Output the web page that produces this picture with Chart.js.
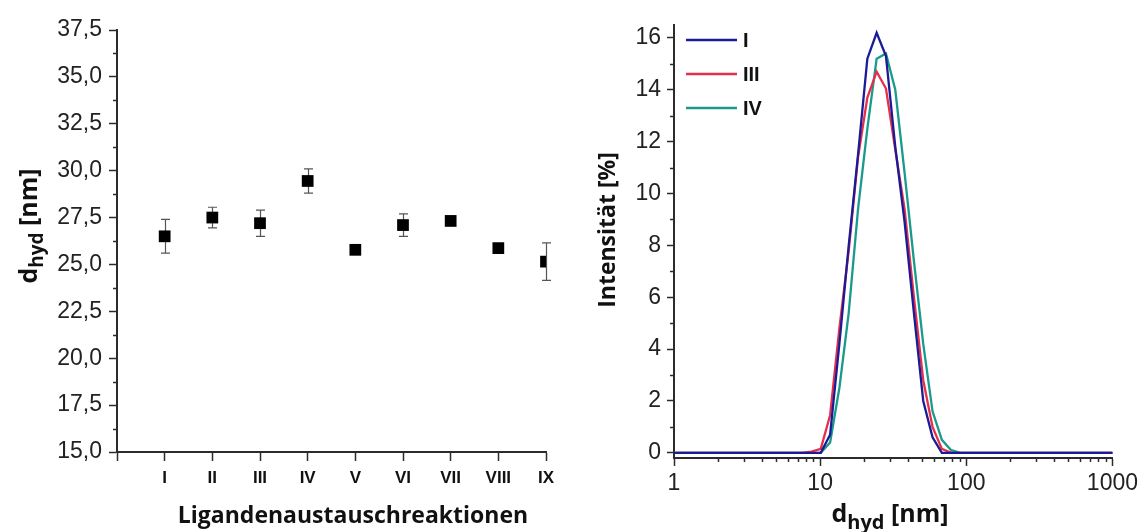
<!DOCTYPE html>
<html>
<head>
<meta charset="utf-8">
<script src="https://cdn.jsdelivr.net/npm/chart.js@4"></script>
<style>
  html, body { margin: 0; padding: 0; background: #fff; }
  #wrap { position: relative; width: 1142px; height: 532px; overflow: hidden; }
  #left { position: absolute; left: 0; top: 0; }
  #right { position: absolute; left: 580px; top: 0; }
</style>
</head>
<body>
<div id="wrap">
  <canvas id="left" width="580" height="532"></canvas>
  <canvas id="right" width="562" height="532"></canvas>
</div>
<script>
// left panel: mean hydrodynamic diameter per ligand exchange reaction
const categories = ["I", "II", "III", "IV", "V", "VI", "VII", "VIII", "IX"];
const dhydMean = [26.5, 27.5, 27.2, 29.45, 25.78, 27.1, 27.32, 25.87, 25.15];
const dhydErr = [0.9, 0.55, 0.7, 0.65, 0.12, 0.6, 0.2, 0.12, 1.0];
const leftYTicks = [15, 17.5, 20, 22.5, 25, 27.5, 30, 32.5, 35, 37.5];
const leftYLabels = ["15,0", "17,5", "20,0", "22,5", "25,0", "27,5", "30,0", "32,5", "35,0", "37,5"];

// right panel: DLS intensity distributions (size classes in nm)
const sizeBins = [0.9649, 1.117, 1.294, 1.499, 1.736, 2.01, 2.328, 2.696, 3.122, 3.615,
  4.187, 4.849, 5.615, 6.503, 7.531, 8.721, 10.1, 11.7, 13.54, 15.69,
  18.17, 21.04, 24.36, 28.21, 32.67, 37.84, 43.82, 50.75, 58.77, 68.06,
  78.82, 91.28, 105.7, 122.4, 141.8, 164.2, 190.1, 220.2, 255, 295.3,
  342, 396.1, 458.7, 531.2, 615.1, 712.4, 825, 955.4, 1106];
const intensityI = [0, 0, 0, 0, 0, 0, 0, 0, 0, 0,
  0, 0, 0, 0, 0, 0, 0, 0.7, 4.2, 8.0,
  11.5, 15.2, 16.2, 15.3, 11.8, 8.9, 5.4, 2.0, 0.6, 0,
  0, 0, 0, 0, 0, 0, 0, 0, 0, 0,
  0, 0, 0, 0, 0, 0, 0, 0, 0];
const intensityIII = [0, 0, 0, 0, 0, 0, 0, 0, 0, 0,
  0, 0, 0, 0, 0, 0.05, 0.15, 1.45, 4.8, 7.8,
  11.4, 13.7, 14.7, 14.05, 11.7, 9.4, 6.0, 2.8, 1.0, 0.15,
  0, 0, 0, 0, 0, 0, 0, 0, 0, 0,
  0, 0, 0, 0, 0, 0, 0, 0, 0];
const intensityIV = [0, 0, 0, 0, 0, 0, 0, 0, 0, 0,
  0, 0, 0, 0, 0, 0, 0, 0.4, 2.5, 5.4,
  9.4, 12.5, 15.2, 15.4, 14.0, 10.8, 7.4, 4.2, 1.6, 0.5,
  0.1, 0, 0, 0, 0, 0, 0, 0, 0, 0,
  0, 0, 0, 0, 0, 0, 0, 0, 0];
const seriesLabels = ["I", "III", "IV"];
const seriesColors = ["#1b1b96", "#e4304b", "#199a8c"];
const rightXTicks = [1, 10, 100, 1000];
const rightXLabels = ["1", "10", "100", "1000"];
const rightYTicks = [0, 2, 4, 6, 8, 10, 12, 14, 16];

const AXIS = "#2b2b2b";
const TICKFONT = { family: "'Liberation Sans', Arial, sans-serif", size: 23 };
const TITLEFONT = "'Open Sans', 'Noto Sans', sans-serif";

// minor ticks between the majors
const leftMinorY = leftYTicks.slice(0, -1).map((v) => v + 1.25);
const rightMinorY = rightYTicks.slice(0, -1).map((v) => v + 1);
const rightMinorX = [];
rightXTicks.slice(0, -1).forEach((d) => { for (let k = 2; k <= 9; k++) rightMinorX.push(d * k); });

const minorTicks = {
  id: "minorTicks",
  afterDraw(chart, args, opts) {
    const ctx = chart.ctx, xs = chart.scales.x, ys = chart.scales.y;
    ctx.save();
    ctx.strokeStyle = AXIS;
    ctx.lineWidth = 1.5;
    (opts.y || []).forEach((v) => {
      const py = Math.round(ys.getPixelForValue(v)) + 0.5;
      ctx.beginPath(); ctx.moveTo(ys.right, py); ctx.lineTo(ys.right - 4, py); ctx.stroke();
    });
    (opts.x || []).forEach((v) => {
      const px = Math.round(xs.getPixelForValue(v)) + 0.5;
      ctx.beginPath(); ctx.moveTo(px, xs.top); ctx.lineTo(px, xs.top + 4); ctx.stroke();
    });
    ctx.restore();
  }
};

// titles with subscripts
function drawParts(ctx, parts, cx, baseY) {
  let total = 0;
  parts.forEach((p) => { ctx.font = "bold " + p.size + "px " + TITLEFONT; p.w = ctx.measureText(p.t).width; total += p.w; });
  let x = cx - total / 2;
  parts.forEach((p) => {
    ctx.font = "bold " + p.size + "px " + TITLEFONT;
    ctx.fillText(p.t, x, baseY + (p.dy || 0));
    x += p.w;
  });
}
const richTitles = {
  id: "richTitles",
  afterDraw(chart, args, opts) {
    const ctx = chart.ctx;
    ctx.save();
    ctx.fillStyle = "#111";
    ctx.textBaseline = "alphabetic";
    (opts.items || []).forEach((it) => {
      ctx.save();
      ctx.translate(it.x, it.y);
      if (it.rotate) ctx.rotate(-Math.PI / 2);
      drawParts(ctx, it.parts, 0, 0);
      ctx.restore();
    });
    ctx.restore();
  }
};

const errorBars = {
  id: "errorBars",
  beforeDatasetsDraw(chart, args, opts) {
    const ctx = chart.ctx, xs = chart.scales.x, ys = chart.scales.y;
    ctx.save();
    ctx.strokeStyle = "#555";
    ctx.lineWidth = 1.2;
    opts.mean.forEach((m, i) => {
      const px = Math.round(xs.getPixelForValue(i + 1)) + 0.5;
      const top = ys.getPixelForValue(m + opts.err[i]);
      const bot = ys.getPixelForValue(m - opts.err[i]);
      ctx.beginPath();
      ctx.moveTo(px, top); ctx.lineTo(px, bot);
      ctx.moveTo(px - 4.5, top); ctx.lineTo(px + 4.5, top);
      ctx.moveTo(px - 4.5, bot); ctx.lineTo(px + 4.5, bot);
      ctx.stroke();
    });
    ctx.restore();
  }
};

const insideLegend = {
  id: "insideLegend",
  afterDraw(chart, args, opts) {
    const ctx = chart.ctx;
    ctx.save();
    ctx.font = "bold 20px 'Liberation Sans', Arial, sans-serif";
    ctx.textBaseline = "middle";
    chart.data.datasets.forEach((ds, i) => {
      const y = opts.y0 + i * opts.dy;
      ctx.strokeStyle = ds.borderColor;
      ctx.lineWidth = 2.5;
      ctx.beginPath(); ctx.moveTo(opts.x0, y); ctx.lineTo(opts.x0 + 51, y); ctx.stroke();
      ctx.fillStyle = "#111";
      ctx.fillText(ds.label, opts.x0 + 57, y + 1);
    });
    ctx.restore();
  }
};

function axisGrid(len) {
  return { display: true, drawOnChartArea: false, drawTicks: true, tickLength: len, tickColor: AXIS, tickWidth: 1.5 };
}

new Chart(document.getElementById("left"), {
  type: "scatter",
  data: {
    datasets: [{
      label: "dhyd",
      data: dhydMean.map((v, i) => ({ x: i + 1, y: v })),
      pointStyle: "rect",
      pointRadius: 8.3,
      pointHoverRadius: 8.3,
      backgroundColor: "#000",
      borderWidth: 0
    }]
  },
  options: {
    responsive: false,
    animation: false,
    layout: { padding: { left: 0, right: 34, top: 30, bottom: 0 } },
    plugins: {
      legend: { display: false },
      tooltip: { enabled: false },
      errorBars: { mean: dhydMean, err: dhydErr },
      minorTicks: { y: leftMinorY },
      richTitles: {
        items: [
          { x: 37, y: 226, rotate: true, parts: [{ t: "d", size: 25 }, { t: "hyd", size: 19, dy: 6 }, { t: " [nm]", size: 25 }] },
          { x: 353, y: 523, parts: [{ t: "Ligandenaustauschreaktionen", size: 23 }] }
        ]
      }
    },
    scales: {
      x: {
        type: "linear", min: 0, max: 9,
        afterBuildTicks: (s) => { s.ticks = [0].concat(categories.map((c, i) => i + 1)).map((v) => ({ value: v })); },
        afterFit: (s) => { s.height = 80; },
        grid: axisGrid(9),
        border: { display: true, color: AXIS, width: 2 },
        ticks: {
          padding: 7, color: "#111", maxRotation: 0, autoSkip: false,
          font: { family: "'Liberation Sans', Arial, sans-serif", size: 17, weight: "bold" },
          callback: (v) => categories[v - 1] || ""
        }
      },
      y: {
        type: "linear", min: 15, max: 37.5,
        afterBuildTicks: (s) => { s.ticks = leftYTicks.map((v) => ({ value: v })); },
        afterFit: (s) => { s.width = 117; },
        grid: axisGrid(8),
        border: { display: true, color: AXIS, width: 2 },
        ticks: { padding: 7, color: "#222", font: TICKFONT, callback: (v, i) => leftYLabels[i] }
      }
    }
  },
  plugins: [errorBars, minorTicks, richTitles]
});

const intensities = [intensityI, intensityIII, intensityIV];
new Chart(document.getElementById("right"), {
  type: "line",
  data: {
    datasets: intensities.map((arr, k) => ({
      label: seriesLabels[k],
      data: arr.map((v, i) => ({ x: sizeBins[i], y: v })),
      borderColor: seriesColors[k],
      borderWidth: 2.3,
      pointRadius: 0,
      tension: 0,
      fill: false,
      clip: 0
    }))
  },
  options: {
    responsive: false,
    animation: false,
    layout: { padding: { left: 0, right: 28, top: 25, bottom: 0 } },
    plugins: {
      legend: { display: false },
      tooltip: { enabled: false },
      minorTicks: { x: rightMinorX, y: rightMinorY },
      insideLegend: { x0: 106, y0: 40, dy: 34 },
      richTitles: {
        items: [
          { x: 35, y: 230, rotate: true, parts: [{ t: "Intensität [%]", size: 23 }] },
          { x: 310, y: 522, parts: [{ t: "d", size: 25 }, { t: "hyd", size: 20, dy: 7 }, { t: " [nm]", size: 25 }] }
        ]
      }
    },
    scales: {
      x: {
        type: "logarithmic", min: 1, max: 1000,
        afterBuildTicks: (s) => { s.ticks = rightXTicks.map((v) => ({ value: v })); },
        afterFit: (s) => { s.height = 74; },
        grid: axisGrid(8),
        border: { display: true, color: AXIS, width: 2 },
        ticks: { padding: 4, color: "#222", maxRotation: 0, autoSkip: false, font: TICKFONT, callback: (v, i) => rightXLabels[i] }
      },
      y: {
        type: "linear", min: -0.2, max: 16.5,
        afterBuildTicks: (s) => { s.ticks = rightYTicks.map((v) => ({ value: v })); },
        afterFit: (s) => { s.width = 94; },
        grid: axisGrid(7),
        border: { display: true, color: AXIS, width: 2 },
        ticks: { padding: 6, color: "#222", font: TICKFONT, callback: (v) => String(v) }
      }
    }
  },
  plugins: [minorTicks, insideLegend, richTitles]
});
</script>
</body>
</html>
